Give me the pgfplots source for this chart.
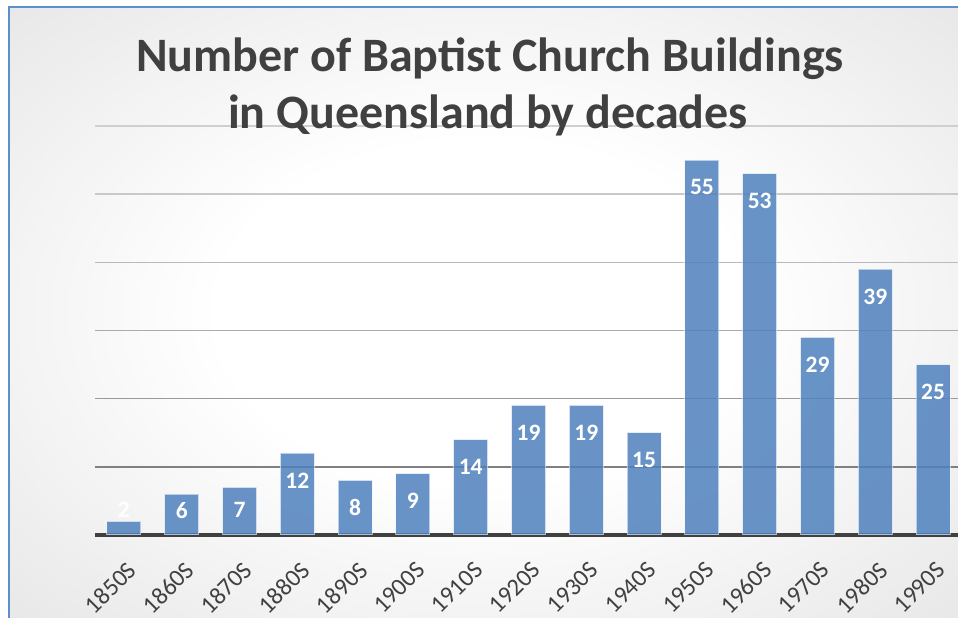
\documentclass[border=0pt]{standalone}
\usepackage{pgfplots}
\usepackage{pgfplotstable}
\pgfplotsset{compat=1.18}
\usepackage{fontspec}
\setmainfont{Carlito}
\definecolor{barblue}{RGB}{79,129,189}
\definecolor{txtgray}{RGB}{64,64,64}
\definecolor{frameblue}{RGB}{91,143,208}
\pgfdeclareradialshading{bgshade}{\pgfpoint{0bp}{0bp}}{%
  color(0bp)=(white); color(14bp)=(white); color(40bp)=(black!11); color(62bp)=(black!23); color(100bp)=(black!26)}
\pgfplotstableread{
x v ly
0 2 3.65
1 6 3.65
2 7 3.65
3 12 8
4 8 4
5 9 5
6 14 10
7 19 15
8 19 15
9 15 11
10 55 51
11 53 49
12 29 25
13 39 35
14 25 21
}\data
\newcommand\tl[1]{{\fontsize{24.5}{28}\selectfont #1}}
\begin{document}
\begin{tikzpicture}[x=1pt,y=1pt]
\path[use as bounding box] (0,0) rectangle (958,618);
\fill[white] (0,0) rectangle (958,618);
\shade[shading=bgshade] (9,0) rectangle (958,611);
\draw[frameblue, line width=1.8pt] (9,0) -- (9,611) -- (958,611);
\begin{axis}[
  at={(95pt,83pt)}, anchor=south west,
  scale only axis, width=863pt, height=409pt,
  xmin=-0.5, xmax=14.43, ymin=0, ymax=60,
  axis x line*=bottom, axis y line=none,
  x axis line style={line width=4pt, color=txtgray, -},
  ytick=\empty,
  xtick={0,...,14}, xtick style={draw=none},
  xticklabels={\tl{1850S},\tl{1860S},\tl{1870S},\tl{1880S},\tl{1890S},\tl{1900S},\tl{1910S},\tl{1920S},\tl{1930S},\tl{1940S},\tl{1950S},\tl{1960S},\tl{1970S},\tl{1980S},\tl{1990S}},
  xticklabel style={xshift=2pt, yshift=-25pt, rotate=45, anchor=north east, inner sep=0pt, text=txtgray},
  clip=false,
]
\draw[black!50, line width=1.6pt] (axis cs:-0.5,10) -- (axis cs:14.43,10);
\draw[black!40, line width=1.6pt] (axis cs:-0.5,20) -- (axis cs:14.43,20);
\draw[black!33, line width=1.5pt] (axis cs:-0.5,30) -- (axis cs:14.43,30);
\draw[black!27, line width=1.5pt] (axis cs:-0.5,40) -- (axis cs:14.43,40);
\draw[black!21, line width=1.5pt] (axis cs:-0.5,50) -- (axis cs:14.43,50);
\draw[black!19, line width=1.5pt] (axis cs:-0.5,60) -- (axis cs:14.43,60);
\addplot[ybar, bar width=34pt, fill=barblue, fill opacity=0.85, draw=white, draw opacity=0.55, line width=1pt] table[x=x, y=v] {\data};
\addplot[draw=none, mark=none, nodes near coords, point meta=explicit symbolic,
  every node near coord/.style={anchor=center, text=white, font=\bfseries\fontsize{23.5}{28}\selectfont}]
  table[x=x, y=ly, meta=v] {\data};
\end{axis}
\node[anchor=base, text=txtgray, font=\bfseries\fontsize{48}{56}\selectfont] at (490,546) {Number of Baptist Church Buildings};
\node[anchor=base, text=txtgray, font=\bfseries\fontsize{48}{56}\selectfont] at (488,489) {in Queensland by decades};
\end{tikzpicture}
\end{document}
